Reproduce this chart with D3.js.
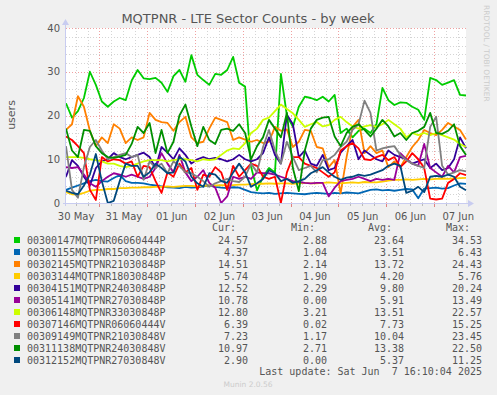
<!DOCTYPE html>
<html>
<head>
<meta charset="utf-8">
<script src="https://cdn.jsdelivr.net/npm/d3@7"></script>
<style>
  body { margin: 0; background: #f0f0f0; }
  svg { display: block; }
</style>
</head>
<body>
<svg id="chart" width="497" height="395"></svg>
<script>
// series names and munin colours
const seriesNames = ["00300147MQTPNR06060444P", "00301155MQTPNR15030848P", "00302145MQTPNR21030848P",
  "00303144MQTPNR18030848P", "00304151MQTPNR24030848P", "00305141MQTPNR27030848P",
  "00306148MQTPNR33030848P", "00307146MQTPNR06060444V", "00309149MQTPNR21030848V",
  "00311138MQTPNR24030848V", "00312152MQTPNR27030848V"];
const seriesColors = ["#00CC00", "#0066B3", "#FF8000", "#FFCC00", "#330099", "#990099",
  "#CCFF00", "#FF0000", "#808080", "#008F00", "#00487D"];

// legend numbers
const curValues = ["24.57", "4.37", "14.51", "5.74", "12.52", "10.78", "12.80", "6.39", "7.23", "10.97", "2.90"];
const minValues = ["2.88", "1.04", "2.14", "1.90", "2.29", "0.00", "3.21", "0.02", "1.17", "2.71", "0.00"];
const avgValues = ["23.64", "3.51", "13.72", "4.20", "9.80", "5.91", "13.51", "7.73", "10.04", "13.38", "5.37"];
const maxValues = ["34.53", "6.43", "24.43", "5.76", "20.24", "13.49", "22.57", "15.25", "23.45", "22.50", "11.25"];

// samples every 3 hours, from 30 May 07:10 to 07 Jun 16:10 (UTC)
const startTime = Date.UTC(2025, 4, 30, 7, 10);
const stepHours = 3;

const v300147 = [22.8, 19.5, 21, 24, 30, 27, 23.2, 22, 23.2, 24, 23.5, 28, 30.4, 28.5, 28.3, 28.6, 27.5, 25.4,
  29, 30.4, 27.7, 33.8, 29.3, 28.1, 27, 29.5, 29.3, 30.4, 33.4, 27.5, 26.6, 8.3, 2.9, 6, 8, 7, 29.5, 20,
  17.4, 22, 24.3, 24, 23.5, 24.3, 23.2, 24.7, 16, 17, 15, 16.5, 17, 16, 18, 26.3, 23.5, 22.4, 23, 22.9,
  22, 21.3, 19, 28.6, 28.1, 27, 27.5, 28.1, 24.7, 24.57];
const v301155 = [3, 3.5, 4, 4.5, 5, 5.3, 5, 4.9, 5.7, 6.4, 5, 4.6, 4.6, 4.5, 4.2, 4, 3.8, 3.6, 3.5, 3.4, 3.7,
  3.5, 3.6, 3.8, 4, 3.7, 3.5, 3.4, 3.6, 3.5, 3, 2.5, 2.3, 2.2, 2.3, 2.1, 2.2, 2.3, 2.2, 2.1, 2, 2.2, 2.3,
  2.2, 2.1, 2.3, 2.2, 2.4, 2.3, 2.2, 2.6, 3, 3.1, 2.9, 3, 2.8, 3, 3.2, 3.1, 1.1, 3.3, 3.4, 3.5, 3.3, 3.4,
  4, 4.5, 4.37];
const v302145 = [16.7, 18, 24.4, 22, 16.5, 13, 15, 13.7, 18, 17, 13.7, 15, 14.4, 15, 20.6, 19, 18.5, 18.3,
  16.5, 18.5, 19.7, 15, 13.7, 14, 17, 19.5, 19, 18.5, 14.4, 15, 14.5, 14, 14.4, 13.7, 14, 17.4, 16.5,
  16.8, 12.8, 14, 16.7, 16.5, 12.8, 12.5, 8.2, 9.8, 2.2, 10.5, 17.4, 19, 11.4, 13, 11.4, 12, 8.2, 9.5,
  8.2, 10.5, 12.8, 14.4, 16.7, 16, 15.5, 16.7, 18.3, 17.5, 16.7, 14.51];
const v303144 = [2.5, 2, 1.9, 2.3, 2.8, 3, 3, 3.2, 3.2, 3.4, 3.4, 3.5, 3.5, 3.6, 3.6, 3.7, 3.7, 3.8, 3.7,
  3.8, 3.9, 3.9, 3.8, 3.9, 4, 4, 4.1, 4, 4.1, 4.2, 4.2, 4.3, 4.4, 4.4, 4.5, 4.4, 4.5, 4.5, 4.4, 4.5, 4.6,
  4.5, 4.5, 4.6, 4.7, 4.6, 4.5, 4.6, 4.7, 4.6, 4.8, 4.7, 4.7, 4.9, 5.1, 5.3, 5.3, 5.4, 5.3, 5.4, 5.5, 5.4,
  5.5, 5.6, 5.5, 5.6, 5.7, 5.74];
const v304151 = [6, 9.8, 8.5, 6, 4, 8, 9.5, 10, 11.4, 10.5, 10, 10.5, 11, 11.5, 10.5, 8, 12.8, 11.5, 10,
  12.5, 11, 9, 10, 10.5, 10, 10.3, 10, 9.5, 10, 11, 10, 9.5, 10, 11.4, 15, 11, 9, 20.2, 18, 10.5, 12, 9,
  8.5, 11, 7.5, 8, 11.5, 13, 14.4, 10, 12, 11, 10, 9.5, 12, 11, 10.5, 10, 9, 9.5, 10, 8, 9, 7.5, 8, 10,
  15, 12.52];
const v305141 = [8.2, 8, 8.2, 6.5, 4.5, 3.7, 5, 6, 6.8, 6.5, 6, 6.5, 6, 5.5, 6, 8, 11.4, 9, 7, 11, 7, 5, 6,
  7.5, 4.6, 3.5, 0, 1.5, 6, 5.5, 6, 5.5, 7, 6.8, 6.8, 6.5, 6, 5.5, 5, 4.8, 4.6, 4.5, 4.6, 4.6, 1.5, 3.5,
  5, 5.3, 5.5, 6, 5.5, 5, 5.5, 5.3, 5.5, 5.3, 11.4, 10, 9, 8.5, 13.5, 8, 7, 6, 8.5, 7, 10.5, 10.78];
const v306148 = [10.5, 10.5, 10.5, 10.3, 10, 9.8, 9.5, 9, 9, 8.5, 8.2, 8.5, 9, 9.5, 9.8, 9.8, 9.8, 9.5, 9.8,
  10, 10, 9.8, 9.5, 10, 9.8, 10, 11, 12, 12.5, 12.3, 13.7, 16, 17, 19, 19.5, 21, 22.5, 21.5, 20.5, 19,
  17.4, 18, 18.5, 17.5, 17.8, 19, 19.7, 18.5, 17.5, 17, 17.5, 17.8, 17.4, 18, 19, 18, 17, 15, 16, 15.5,
  16, 15.5, 16, 15.5, 15, 14.5, 13.5, 12.8];
const v307146 = [15.2, 14.4, 13, 11.4, 3, 0.7, 10.5, 9.5, 10, 9.8, 9, 9.5, 6, 8.5, 8.2, 5, 2.3, 7, 6, 9, 7,
  8, 3, 6.5, 6, 8.2, 7, 3, 8.5, 6, 7.5, 9, 8.5, 6, 5.5, 6, 0.02, 7, 10.5, 10.5, 9, 8.5, 8, 7, 6, 7, 12,
  13, 13.7, 12.5, 10, 9.8, 10.5, 11, 9.8, 10.5, 8.2, 9.5, 11.4, 10, 8, 1, 0.8, 1, 4.6, 5.5, 6.8, 6.39];
const v309149 = [13, 3, 1.2, 8.2, 12.8, 14.4, 12, 10, 10.5, 11, 11.4, 10.5, 11, 5.3, 9.5, 8, 9, 6.8, 9.5,
  8.5, 7, 6.8, 6, 5, 3.7, 4.5, 5, 5.5, 5, 4.8, 6, 9, 7, 12.8, 16.7, 12, 9, 14, 10.5, 7.5, 8, 8.5, 7, 9.8,
  10, 11, 12.8, 14, 16.7, 18, 23.4, 20.6, 12, 12.5, 12.8, 13, 11, 9.8, 9, 8.5, 8, 17.4, 19.7, 8.5, 6.5, 7,
  7.5, 7.23];
const v311138 = [17, 12, 10.5, 16.7, 16.5, 13, 11.4, 10.5, 10.3, 10.6, 11, 13.5, 17.4, 16, 18.3, 11.4, 16.7,
  11.4, 14, 20, 22.5, 17.5, 13, 17.4, 14.4, 13.5, 16.7, 17, 16.5, 18, 16, 10, 13, 15, 19, 17, 15, 20.6, 8,
  2.7, 12, 17, 19, 19.5, 19.7, 15.2, 13, 16, 17.4, 18, 16.7, 15.2, 17, 19, 17.5, 15.2, 16, 14.4, 16, 16.5,
  17.4, 20.6, 16, 15.8, 16.5, 18, 13, 10.97];
const v312152 = [2.8, 2.3, 2, 4, 6.5, 11.2, 5, 0, 0.5, 5, 9, 8.5, 8.5, 6, 7, 9, 8, 6.8, 7, 10.6, 9.5, 6,
  4.5, 3.7, 6.8, 6.5, 5, 4.6, 7, 9, 7, 3.7, 4.5, 5.5, 7.5, 6.8, 5, 5.5, 4.6, 5, 5.5, 6.8, 7.5, 8.2, 7, 6,
  5.3, 5.8, 6, 6.5, 6.2, 6.5, 7, 7.5, 8.5, 9, 8.5, 2.3, 2.8, 3.7, 2.5, 6, 6.2, 6, 6.5, 6, 3.7, 2.9];

const seriesValues = [v300147, v301155, v302145, v303144, v304151, v305141, v306148, v307146, v309149, v311138, v312152];

const yTicks = [0, 10, 20, 30, 40];

const svg = d3.select("#chart");
const plot = { left: 66, right: 466, top: 28, bottom: 203 };
const textColor = "#555";

const x = d3.scaleTime()
  .domain([new Date(startTime), new Date(startTime + 67 * stepHours * 3600e3)])
  .range([plot.left, plot.right]);
const y = d3.scaleLinear().domain([0, 40]).range([plot.bottom, plot.top]);

// white canvas for the graph
svg.append("rect")
  .attr("x", plot.left).attr("y", plot.top)
  .attr("width", plot.right - plot.left).attr("height", plot.bottom - plot.top)
  .attr("fill", "#fff");

// minor grid
const minorTimes = d3.utcHour.every(6).range(x.domain()[0], x.domain()[1]).filter(d => d.getUTCHours() !== 0);
const dayTimes = d3.utcDay.range(x.domain()[0], x.domain()[1]);
svg.append("g").selectAll("line").data(minorTimes).join("line")
  .attr("x1", d => Math.round(x(d)) + 0.5).attr("x2", d => Math.round(x(d)) + 0.5)
  .attr("y1", plot.top).attr("y2", plot.bottom)
  .attr("stroke", "#d4d4d4").attr("stroke-dasharray", "1,2");
svg.append("g").selectAll("line").data(d3.range(2, 40, 2).filter(v => v % 10 !== 0)).join("line")
  .attr("x1", plot.left).attr("x2", plot.right)
  .attr("y1", d => Math.round(y(d)) + 0.5).attr("y2", d => Math.round(y(d)) + 0.5)
  .attr("stroke", "#d4d4d4").attr("stroke-dasharray", "1,2");

// major grid
svg.append("g").selectAll("line").data(dayTimes).join("line")
  .attr("x1", d => Math.round(x(d)) + 0.5).attr("x2", d => Math.round(x(d)) + 0.5)
  .attr("y1", plot.top).attr("y2", plot.bottom)
  .attr("stroke", "#f0a0a0").attr("stroke-dasharray", "1,2");
svg.append("g").selectAll("line").data(yTicks.slice(1)).join("line")
  .attr("x1", plot.left).attr("x2", plot.right)
  .attr("y1", d => Math.round(y(d)) + 0.5).attr("y2", d => Math.round(y(d)) + 0.5)
  .attr("stroke", "#f0a0a0").attr("stroke-dasharray", "1,2");

// the lines
const times = d3.range(68).map(i => new Date(startTime + i * stepHours * 3600e3));
const line = d3.line().x((d, i) => x(times[i])).y(d => y(d));
svg.append("g").selectAll("path").data(seriesValues).join("path")
  .attr("d", line)
  .attr("fill", "none")
  .attr("stroke", (d, i) => seriesColors[i])
  .attr("stroke-width", 1.8)
  .attr("stroke-linejoin", "round");

// axes
const axisColor = "#c8ccf0";
svg.append("line").attr("x1", plot.left - 0.5).attr("x2", plot.left - 0.5)
  .attr("y1", plot.bottom + 3).attr("y2", plot.top - 4).attr("stroke", axisColor);
svg.append("line").attr("x1", plot.left - 3).attr("x2", plot.right + 4)
  .attr("y1", plot.bottom + 0.5).attr("y2", plot.bottom + 0.5).attr("stroke", axisColor);
svg.append("path").attr("d", `M${plot.left - 4},${plot.top - 3}L${plot.left + 3},${plot.top - 3}L${plot.left - 0.5},${plot.top - 9}Z`)
  .attr("fill", axisColor);
svg.append("path").attr("d", `M${plot.right + 2},${plot.bottom - 3}L${plot.right + 2},${plot.bottom + 4}L${plot.right + 8},${plot.bottom + 0.5}Z`)
  .attr("fill", axisColor);

// x ticks under the axis
svg.append("g").selectAll("line").data(minorTimes).join("line")
  .attr("x1", d => Math.round(x(d)) + 0.5).attr("x2", d => Math.round(x(d)) + 0.5)
  .attr("y1", plot.bottom + 1).attr("y2", plot.bottom + 3).attr("stroke", "#bbb");
svg.append("g").selectAll("line").data(dayTimes).join("line")
  .attr("x1", d => Math.round(x(d)) + 0.5).attr("x2", d => Math.round(x(d)) + 0.5)
  .attr("y1", plot.bottom + 1).attr("y2", plot.bottom + 4).attr("stroke", "#e08080");

// x labels at noon of every day
const noonTimes = dayTimes.map(d => d3.utcHour.offset(d, 12));
noonTimes.unshift(d3.utcHour.offset(dayTimes[0], -12));
const xAxis = svg.append("g")
  .attr("transform", `translate(0,${plot.bottom + 4})`)
  .call(d3.axisBottom(x).tickValues(noonTimes).tickFormat(d3.utcFormat("%d %b")).tickSize(0));
xAxis.select(".domain").remove();
xAxis.selectAll("text")
  .attr("fill", textColor).attr("dy", "0.95em")
  .style("font-family", "DejaVu Sans").style("font-size", "10px");

// y labels
const yAxis = svg.append("g")
  .attr("transform", `translate(${plot.left - 3},0)`)
  .call(d3.axisLeft(y).tickValues(yTicks).tickSize(0));
yAxis.select(".domain").remove();
yAxis.selectAll("text")
  .attr("fill", textColor)
  .style("font-family", "DejaVu Sans").style("font-size", "10px");

// titles
svg.append("text").attr("x", 248).attr("y", 23).attr("text-anchor", "middle")
  .attr("fill", textColor).style("font-family", "DejaVu Sans").style("font-size", "13px")
  .text("MQTPNR - LTE Sector Counts - by week");
svg.append("text").attr("transform", "translate(15,115) rotate(-90)").attr("text-anchor", "middle")
  .attr("fill", textColor).style("font-family", "DejaVu Sans").style("font-size", "11px")
  .text("users");
svg.append("text").attr("transform", "translate(484,5) rotate(90)")
  .attr("fill", "#ccc").style("font-family", "DejaVu Sans").style("font-size", "7.5px")
  .text("RRDTOOL / TOBI OETIKER");

// legend
const mono = "DejaVu Sans Mono";
const columns = [{ head: "Cur:", values: curValues, end: 248 }, { head: "Min:", values: minValues, end: 327 },
  { head: "Avg:", values: avgValues, end: 404 }, { head: "Max:", values: maxValues, end: 482 }];
columns.forEach(c => {
  svg.append("text").attr("x", c.end - 12).attr("y", 231).attr("text-anchor", "end")
    .attr("fill", textColor).style("font-family", mono).style("font-size", "10px").text(c.head);
});
const rows = svg.append("g").selectAll("g").data(seriesNames).join("g")
  .attr("transform", (d, i) => `translate(0,${240 + i * 12})`);
rows.append("rect").attr("x", 14).attr("y", -3).attr("width", 6).attr("height", 6)
  .attr("fill", (d, i) => seriesColors[i]);
rows.append("text").attr("x", 27).attr("y", 3.5)
  .attr("fill", textColor).style("font-family", mono).style("font-size", "10px").text(d => d);
columns.forEach(c => {
  rows.append("text").attr("x", c.end).attr("y", 3.5).attr("text-anchor", "end")
    .attr("fill", textColor).style("font-family", mono).style("font-size", "10px")
    .text((d, i) => c.values[i]);
});
svg.append("text").attr("x", 482).attr("y", 375).attr("text-anchor", "end")
  .attr("fill", textColor).style("font-family", mono).style("font-size", "10px")
  .attr("xml:space", "preserve").style("white-space", "pre")
  .text("Last update: Sat Jun  7 16:10:04 2025");
svg.append("text").attr("x", 248).attr("y", 387).attr("text-anchor", "middle")
  .attr("fill", "#ccc").style("font-family", "DejaVu Sans").style("font-size", "7.5px")
  .text("Munin 2.0.56");
</script>
</body>
</html>
